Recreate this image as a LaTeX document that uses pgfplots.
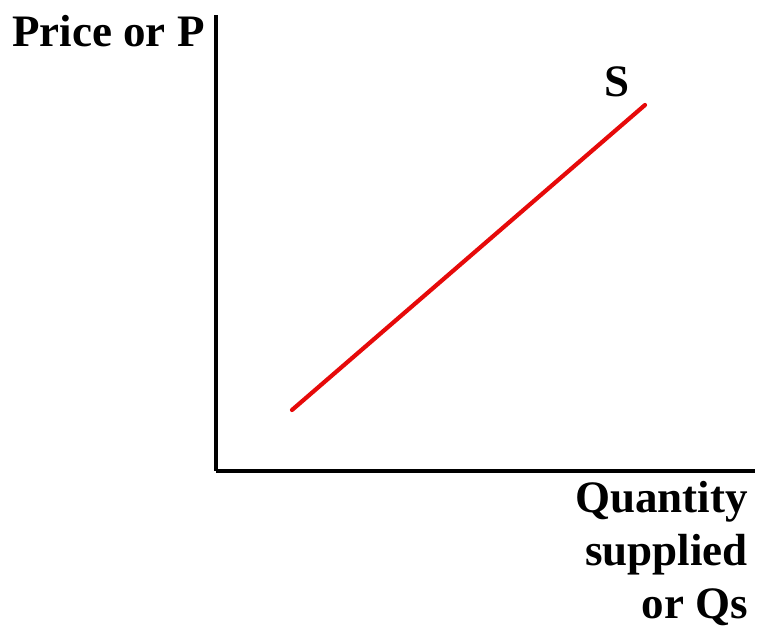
\documentclass[border=0pt]{standalone}
\usepackage{pgfplots}
\pgfplotsset{compat=1.18}
\usepackage{fontspec}
\setmainfont{Liberation Serif}
\begin{document}
\begin{tikzpicture}[x=1pt,y=1pt]
\begin{axis}[
  anchor=origin, at={(216pt,157pt)},
  x=1pt, y=1pt,
  scale only axis,
  xmin=216, xmax=755, ymin=157, ymax=613,
  axis lines=left,
  axis line style={line width=4pt, -},
  xtick=\empty, ytick=\empty,
  clip=false,
]
\addplot[color={rgb,255:red,230;green,10;blue,10}, line width=4.2pt, line cap=round] coordinates {(292,218) (645,523)};
\node[font=\bfseries\fontsize{45}{53}\selectfont, anchor=base] at (axis cs:617,531) {S};
\node[font=\bfseries\fontsize{45}{53}\selectfont, anchor=base west, inner sep=0pt] at (axis cs:12,581) {Price or P};
\node[font=\bfseries\fontsize{45}{53}\selectfont, anchor=base east, inner sep=0pt] at (axis cs:748,115) {Quantity};
\node[font=\bfseries\fontsize{45}{53}\selectfont, anchor=base east, inner sep=0pt] at (axis cs:748,62) {supplied};
\node[font=\bfseries\fontsize{45}{53}\selectfont, anchor=base east, inner sep=0pt] at (axis cs:748,9) {or Qs};
\path[use as bounding box] (axis cs:0,0) rectangle (axis cs:757,628);
\end{axis}
\end{tikzpicture}
\end{document}
